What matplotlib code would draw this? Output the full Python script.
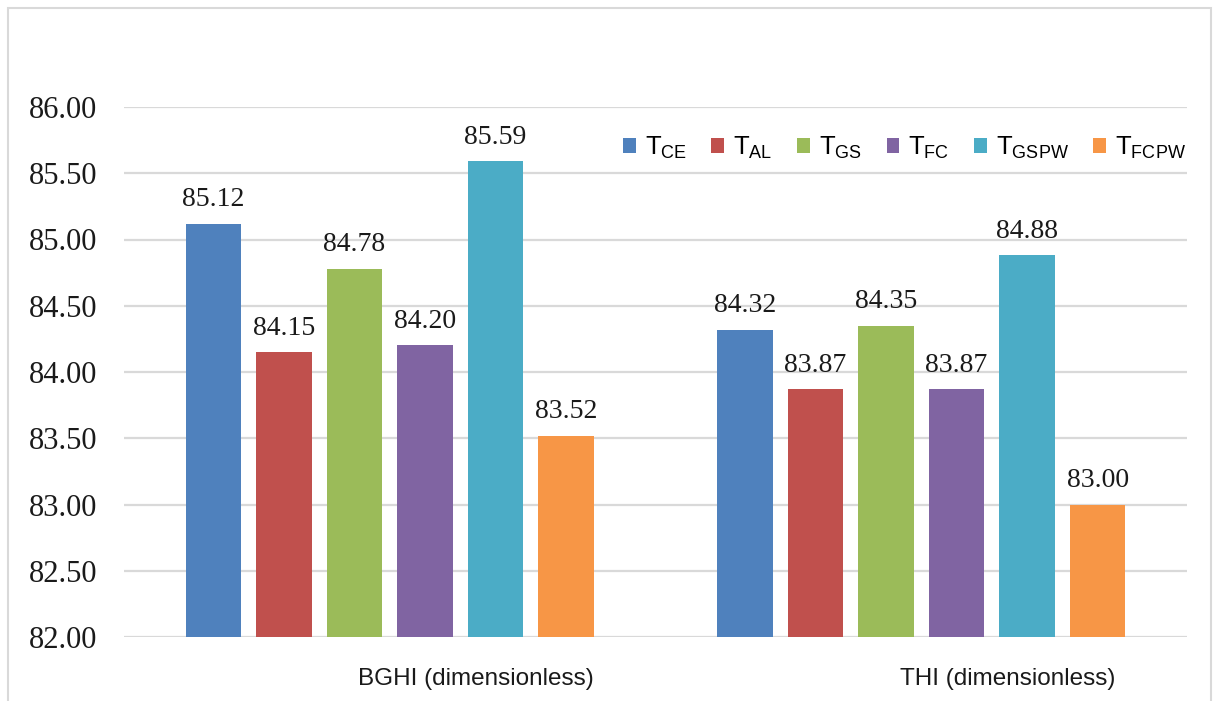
import matplotlib
matplotlib.use("Agg")
import matplotlib.pyplot as plt
import matplotlib.transforms as mtransforms
from matplotlib.patches import Rectangle
import numpy as np

categories = ["BGHI (dimensionless)", "THI (dimensionless)"]
series_names = ["CE", "AL", "GS", "FC", "GSPW", "FCPW"]
values = {
    "CE":   [85.12, 84.32],
    "AL":   [84.15, 83.87],
    "GS":   [84.78, 84.35],
    "FC":   [84.20, 83.87],
    "GSPW": [85.59, 84.88],
    "FCPW": [83.52, 83.00],
}
yticks = [82.0, 82.5, 83.0, 83.5, 84.0, 84.5, 85.0, 85.5, 86.0]
colors = ["#4F81BD", "#C0504D", "#9BBB59", "#8064A2", "#4BACC6", "#F79646"]

plt.rcParams["mathtext.default"] = "regular"

W, H = 1213, 701
fig = plt.figure(figsize=(W / 100, H / 100), dpi=100)
ax = fig.add_axes([124 / W, 1 - 637 / H, (1187 - 124) / W, (637 - 107) / H])

x = np.arange(len(categories))
step = 0.1327
width = 0.104
n = len(series_names)
for i, (name, col) in enumerate(zip(series_names, colors)):
    pos = x + (i - (n - 1) / 2) * step
    vals = values[name]
    ax.bar(pos, np.array(vals) - 82.0, width=width, bottom=82.0, color=col,
           label=r"$\mathregular{T_{%s}}$" % name, zorder=3)
    for px, v in zip(pos, vals):
        ax.annotate(f"{v:.2f}", (px, v), xytext=(0, 12.5), textcoords="offset points",
                    ha="center", va="baseline", fontsize=20,
                    family="Liberation Serif", color="#1a1a1a")

ax.set_xlim(-0.5, 1.5)
ax.set_ylim(82.0, 86.0)
ax.set_yticks(yticks)
ax.set_yticklabels([f"{t:.2f}" for t in yticks], family="Liberation Serif",
                   fontsize=22, color="#1a1a1a")
ax.tick_params(axis="y", length=0, pad=19)
ax.set_xticks(x)
ax.set_xticklabels(categories, family="Liberation Sans", fontsize=17.5, color="#1a1a1a")
ax.tick_params(axis="x", length=0, pad=22)
shift = mtransforms.ScaledTranslation(0.86, 0, fig.dpi_scale_trans)
for lbl in ax.get_xticklabels():
    lbl.set_transform(lbl.get_transform() + shift)

ax.grid(axis="y", color="#D9D9D9", linewidth=1.6, zorder=0)
ax.set_axisbelow(True)
for s in ax.spines.values():
    s.set_visible(False)

leg = fig.legend(loc="center", bbox_to_anchor=((627 + 1182) / 2 / W, 1 - 148 / H),
                 ncol=6, frameon=False, handlelength=0.5, handleheight=0.5,
                 handletextpad=0.35, columnspacing=0.95,
                 prop={"family": "Liberation Sans", "size": 18.5})

fig.patches.append(Rectangle((8 / W, -0.05), (1211 - 8) / W, 1.05 - 8 / H,
                             transform=fig.transFigure, fill=False,
                             edgecolor="#D9D9D9", linewidth=1.5))

fig.savefig("out.png", dpi=100, facecolor="white")
